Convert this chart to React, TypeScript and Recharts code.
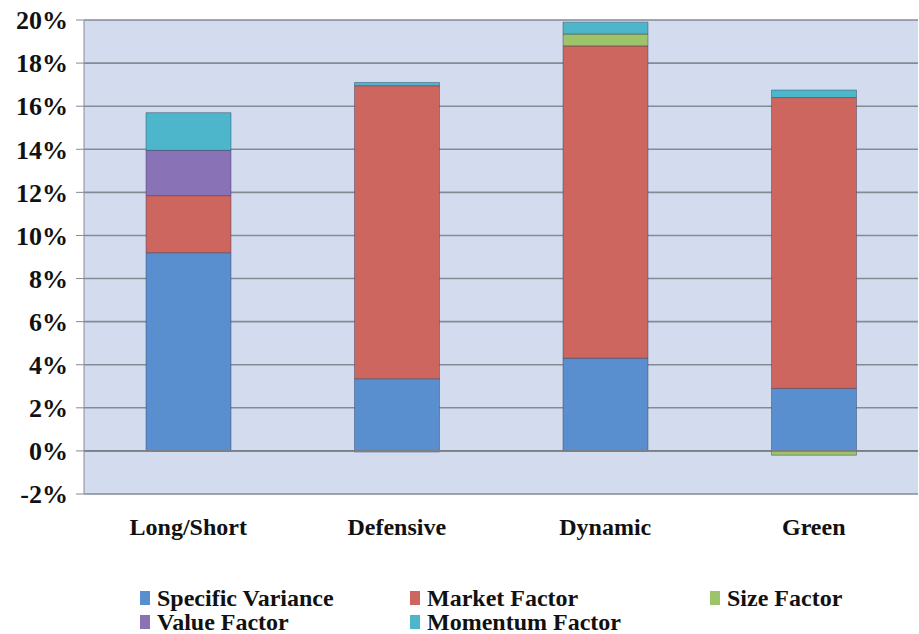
import { BarChart, Bar, XAxis, YAxis, CartesianGrid, ReferenceLine } from "recharts"

const categories = ["Long/Short", "Defensive", "Dynamic", "Green"]
const specificVariance = [9.2, 3.35, 4.3, 2.9]
const marketFactor = [2.65, 13.6, 14.5, 13.5]
const sizeFactor = [0, -0.05, 0.55, -0.2]
const valueFactor = [2.1, 0, 0, 0]
const momentumFactor = [1.75, 0.15, 0.55, 0.35]
const yTicks = [-2, 0, 2, 4, 6, 8, 10, 12, 14, 16, 18, 20]

const series = [
    { key: "specific", name: "Specific Variance", color: "#5a8fcf" },
    { key: "market", name: "Market Factor", color: "#cc665e" },
    { key: "size", name: "Size Factor", color: "#9dc46a" },
    { key: "value", name: "Value Factor", color: "#8a72b6" },
    { key: "momentum", name: "Momentum Factor", color: "#4db6cb" },
]

const data = categories.map((name, i) => ({
    name,
    specific: specificVariance[i],
    market: marketFactor[i],
    size: sizeFactor[i],
    value: valueFactor[i],
    momentum: momentumFactor[i],
}))

const font = "Liberation Serif, DejaVu Serif, serif"

// legend rows as in the original: 3 on top, 2 below
const legendPos = [
    { left: 140, top: 587 },
    { left: 410, top: 587 },
    { left: 710, top: 587 },
    { left: 140, top: 611 },
    { left: 410, top: 611 },
]

export default function App() {
    return (
        <div style={{ position: "absolute", left: 0, top: 0, width: 919, height: 634, background: "#fff" }}>
            <BarChart
                width={919}
                height={634}
                data={data}
                stackOffset="sign"
                margin={{ top: 20, right: 1, left: 0, bottom: 80 }}
            >
                <CartesianGrid
                    vertical={false}
                    stroke="#868a95"
                    strokeWidth={1.6}
                    fill="#d3dcef"
                    fillOpacity={1}
                />
                <XAxis
                    dataKey="name"
                    axisLine={false}
                    tickLine={false}
                    tickSize={0}
                    tickMargin={24}
                    height={60}
                    tick={{ fill: "#111", fontFamily: font, fontWeight: 700, fontSize: 24 }}
                />
                <YAxis
                    domain={[-2, 20]}
                    ticks={yTicks}
                    width={84}
                    tickSize={8}
                    tickMargin={8}
                    stroke="#868a95"
                    tickFormatter={(v) => `${v}%`}
                    tick={{ fill: "#111", fontFamily: font, fontWeight: 700, fontSize: 26 }}
                />
                <ReferenceLine y={0} stroke="#7a7e89" strokeWidth={1.6} />
                {series.map((s) => (
                    <Bar
                        key={s.key}
                        dataKey={s.key}
                        name={s.name}
                        stackId="a"
                        fill={s.color}
                        stroke="rgba(50,60,90,0.45)"
                        strokeWidth={1}
                        barSize={85}
                        isAnimationActive={false}
                    />
                ))}
            </BarChart>
            {series.map((s, i) => (
                <div
                    key={s.key}
                    style={{
                        position: "absolute",
                        left: legendPos[i].left,
                        top: legendPos[i].top,
                        height: 22,
                        display: "flex",
                        alignItems: "center",
                        gap: 7,
                        fontFamily: font,
                        fontWeight: 700,
                        fontSize: 24,
                        lineHeight: "22px",
                        color: "#111",
                        whiteSpace: "nowrap",
                    }}
                >
                    <span style={{ width: 10, height: 14, background: s.color, display: "inline-block" }} />
                    <span style={{ lineHeight: "22px", height: 22 }}>{s.name}</span>
                </div>
            ))}
        </div>
    )
}
